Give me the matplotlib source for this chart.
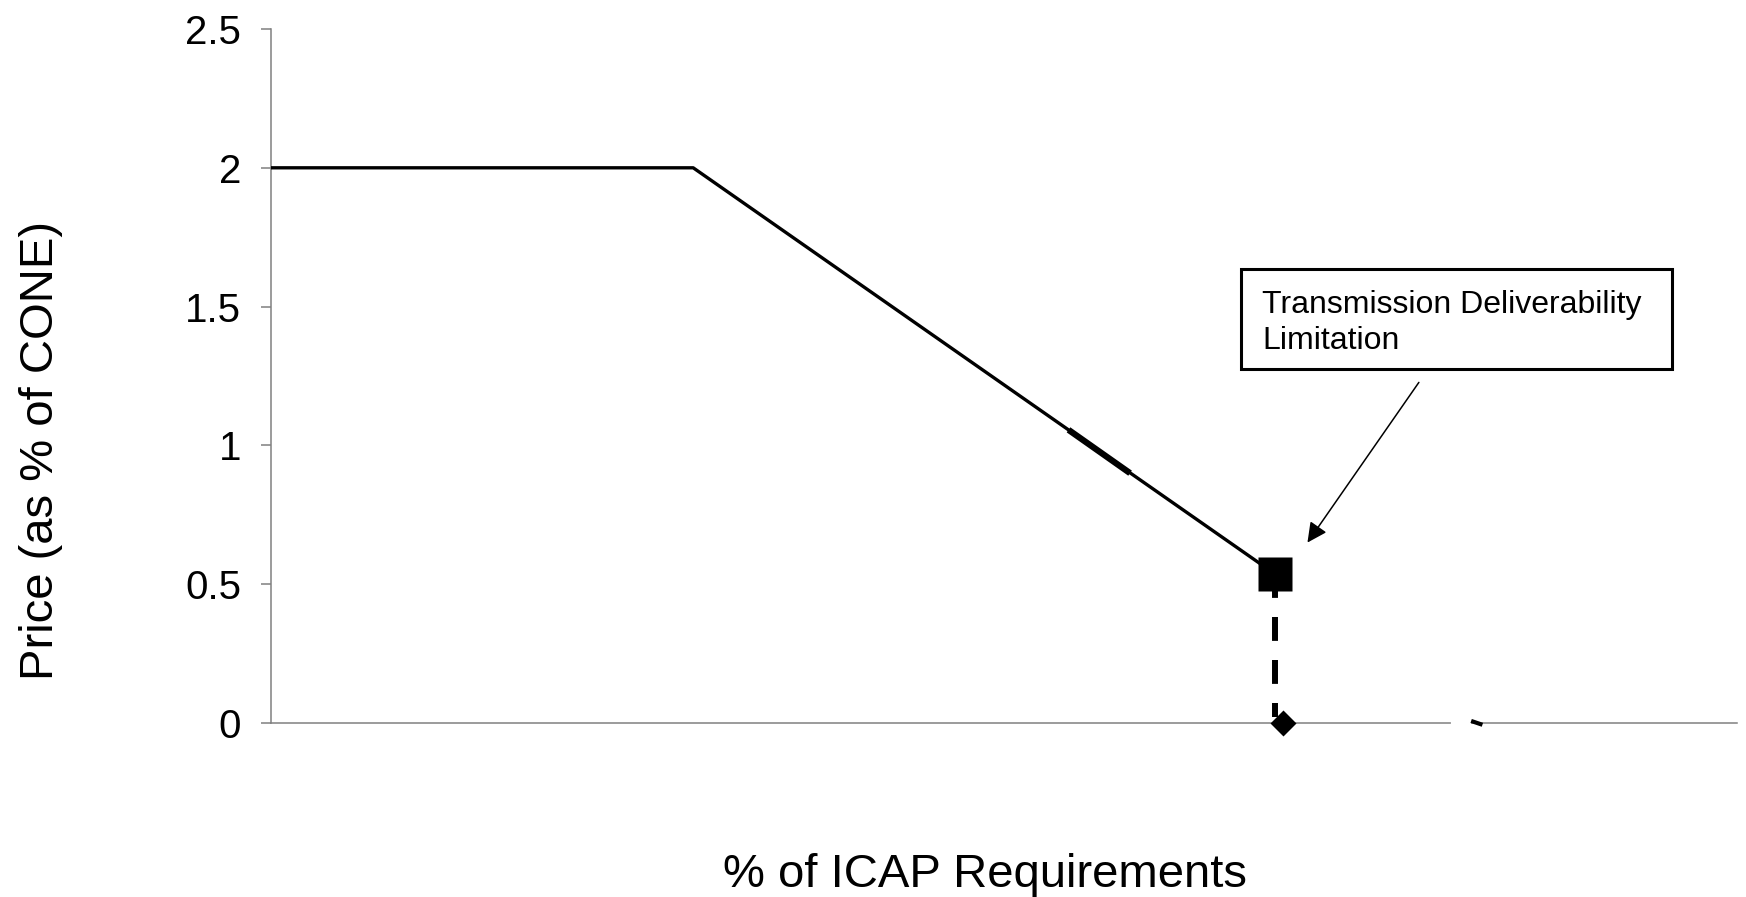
import numpy as np
import matplotlib
matplotlib.use("Agg")
import matplotlib.pyplot as plt

plt.rcParams['font.family'] = ['Liberation Sans', 'DejaVu Sans']

# Demand curve (x in % of the axis span, y as multiple of CONE)
curve_x = [0.0, 28.8, 68.5]
curve_y = [2.0, 2.0, 0.536]

# small thicker piece drawn on top of the slope
thick_x = [54.4, 58.6]
thick_y = [1.056, 0.90]

# deliverability limit: square point, dashed drop, diamond at zero
limit_x = 68.5
limit_y = 0.536
drop_y = [0.536, 0.02]
diamond_x = 69.0
diamond_y = 0.0

# stray tick on the axis near the right
stray_x = [82.0, 82.5]
stray_y = [0.005, -0.004]
gap_x = [80.6, 81.7]

yticks = [0, 0.5, 1, 1.5, 2, 2.5]
ytick_labels = ["0", "0.5", "1", "1.5", "2", "2.5"]

note_text = "Transmission Deliverability\nLimitation"

W, H = 1746, 897
fig = plt.figure(figsize=(W / 100, H / 100), dpi=100)
ax = fig.add_axes([271 / W, 1 - 723 / H, (1737 - 271) / W, (723 - 29) / H])

ax.plot(curve_x, curve_y, color="black", lw=2.4, solid_capstyle="butt", zorder=3)
ax.plot(thick_x, thick_y, color="black", lw=4.5, solid_capstyle="butt", zorder=3)

ax.plot([limit_x, limit_x], drop_y, color="black", lw=4.3, dashes=(4, 3.2),
        dash_capstyle="butt", zorder=3)
ax.plot([limit_x], [limit_y], marker="s", ms=24.5, mec="none", color="black", zorder=4)
ax.plot([diamond_x], [diamond_y], marker="D", ms=13, mec="none", color="black",
        zorder=4, clip_on=False)

# axis gap + stray mark
ax.plot(gap_x, [0, 0], color="white", lw=3, zorder=5, clip_on=False)
ax.plot(stray_x, stray_y, color="black", lw=3, zorder=5, clip_on=False)

ax.set_xlim(0, 100)
ax.set_ylim(0, 2.5)
ax.set_yticks(yticks)
ax.set_yticklabels(ytick_labels)
ax.set_xticks([])

for s in ["top", "right"]:
    ax.spines[s].set_visible(False)
for s in ["left", "bottom"]:
    ax.spines[s].set_color("#808080")
    ax.spines[s].set_linewidth(1.1)

ax.tick_params(axis="y", direction="out", length=7.5, width=1.1, color="#808080",
               labelsize=29, pad=14)

# annotation box + arrow
ax.add_patch(plt.Rectangle((66.2, 1.274), 95.6 - 66.2, 1.635 - 1.274, fill=False,
                           ec="black", lw=2.2, zorder=6))
ax.text(67.6, 1.44, note_text, fontsize=23, ha="left", va="center",
        linespacing=1.25, zorder=6)
ax.annotate("", xy=(70.7, 0.650), xytext=(78.3, 1.227),
            arrowprops=dict(arrowstyle="-|>", color="black", lw=1.1,
                            mutation_scale=30, shrinkA=0, shrinkB=0))

fig.text(985 / W, 1 - 887 / H, "% of ICAP Requirements", fontsize=34,
         ha="center", va="baseline")
fig.text(41 / W, 1 - 451 / H, "Price (as % of CONE)", fontsize=34,
         ha="center", va="center", rotation=90)

fig.savefig("out.png", dpi=100)
